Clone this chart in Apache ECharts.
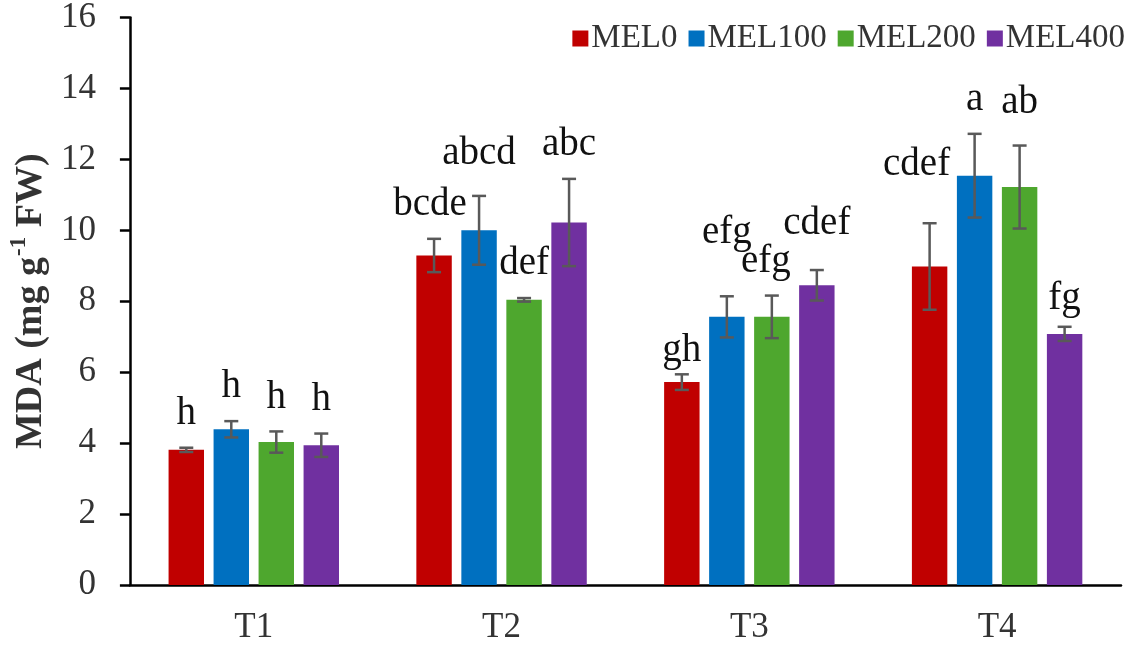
<!DOCTYPE html>
<html>
<head>
  <meta charset="UTF-8">
  <title>MDA</title>
  <script src="https://cdn.jsdelivr.net/npm/echarts@6/dist/echarts.min.js"></script>
  <style>
    html, body { margin: 0; padding: 0; background: #fff; }
    #main { width: 1134px; height: 661px; }
  </style>
</head>
<body>
<div id="main"></div>
<script type="text/javascript">
  // data
  var categories = ['T1', 'T2', 'T3', 'T4'];
  var seriesNames = ['MEL0', 'MEL100', 'MEL200', 'MEL400'];
  var mel0   = [3.81, 9.29, 5.72, 8.98];
  var mel100 = [4.39, 10.00, 7.56, 11.54];
  var mel200 = [4.03, 8.04, 7.56, 11.22];
  var mel400 = [3.94, 10.22, 8.45, 7.08];
  var err0   = [0.06, 0.47, 0.22, 1.22];
  var err100 = [0.23, 0.97, 0.58, 1.18];
  var err200 = [0.30, 0.05, 0.60, 1.17];
  var err400 = [0.33, 1.23, 0.43, 0.20];
  var letters0   = ['h', 'bcde', 'gh', 'cdef'];
  var letters100 = ['h', 'abcd', 'efg', 'a'];
  var letters200 = ['h', 'def', 'efg', 'ab'];
  var letters400 = ['h', 'abc', 'cdef', 'fg'];
  var yMin = 0, yMax = 16, yStep = 2;

  var means = [mel0, mel100, mel200, mel400];
  var errs = [err0, err100, err200, err400];
  var letters = [letters0, letters100, letters200, letters400];
  var colors = ['#C00000', '#0070C0', '#4EA72E', '#7030A0'];

  var FONT = '"Liberation Serif", "Times New Roman", serif';
  var BAR_W = 0.143;   // bar width as share of category band
  var BAR_GAP = 0.27;  // gap as share of bar width

  // letters sit ~34px over the error bar; a few were moved in the original to avoid clashes
  // key = series index + '-' + category index
  var liftDefault = 34;
  var liftFix = { '1-1': 42, '1-2': 64, '3-2': 46, '0-3': 58, '2-3': 43, '3-3': 28, '0-2': 24 };
  var shiftFix = { '0-3': -13, '2-2': -6, '0-1': -4 };

  var myChart = echarts.init(document.getElementById('main'));

  var series = [];
  seriesNames.forEach(function (name, s) {
    series.push({
      name: name,
      type: 'bar',
      data: means[s],
      barWidth: (BAR_W * 100) + '%',
      barGap: (BAR_GAP * 100) + '%',
      itemStyle: { color: colors[s] }
    });
  });
  seriesNames.forEach(function (name, s) {
    var d = categories.map(function (c, i) { return [i, means[s][i], errs[s][i]]; });
    series.push({
      type: 'custom',
      name: name + '-err',
      z: 5,
      silent: true,
      data: d,
      renderItem: function (params, api) {
        var i = api.value(0), m = api.value(1), e = api.value(2);
        var band = api.size([1, 0])[0];
        var w = band * BAR_W, g = w * BAR_GAP;
        var total = 4 * w + 3 * g;
        var dx = -total / 2 + s * (w + g) + w / 2;
        var top = api.coord([i, m + e]);
        var bot = api.coord([i, m - e]);
        var x = top[0] + dx;
        var cap = 7;
        var key = s + '-' + i;
        var lift = liftFix[key] != null ? liftFix[key] : liftDefault;
        var shift = shiftFix[key] || 0;
        var lineStyle = { stroke: '#595959', lineWidth: 2.5 };
        return {
          type: 'group',
          children: [
            { type: 'line', shape: { x1: x, y1: top[1], x2: x, y2: bot[1] }, style: lineStyle },
            { type: 'line', shape: { x1: x - cap, y1: top[1], x2: x + cap, y2: top[1] }, style: lineStyle },
            { type: 'line', shape: { x1: x - cap, y1: bot[1], x2: x + cap, y2: bot[1] }, style: lineStyle },
            {
              type: 'text',
              style: {
                text: letters[s][i],
                x: x + shift,
                y: top[1] - lift,
                align: 'center',
                verticalAlign: 'middle',
                fontFamily: FONT,
                fontSize: 39,
                fill: '#111'
              }
            }
          ]
        };
      }
    });
  });

  myChart.setOption({
    animation: false,
    textStyle: { fontFamily: FONT },
    grid: { left: 129, right: 13, top: 15, bottom: 76 },
    legend: {
      data: seriesNames,
      right: 4,
      top: 17,
      itemWidth: 16,
      itemHeight: 16,
      itemGap: 11,
      icon: 'rect',
      textStyle: { fontFamily: FONT, fontSize: 33, color: '#333', padding: [0, 0, 0, -2] }
    },
    xAxis: {
      type: 'category',
      data: categories,
      axisLine: { lineStyle: { color: '#000', width: 2.5 } },
      axisTick: { alignWithLabel: true, length: 9, lineStyle: { color: '#000', width: 2.5 } },
      axisLabel: { fontFamily: FONT, fontSize: 35, color: '#333', margin: 25 }
    },
    yAxis: {
      type: 'value',
      min: yMin,
      max: yMax,
      interval: yStep,
      name: '{b|MDA (mg g}{sup|-1}{b| FW)}',
      nameLocation: 'middle',
      nameGap: 74,
      nameRotate: 90,
      nameTextStyle: {
        rich: {
          b: { fontFamily: FONT, fontSize: 38, fontWeight: 'bold', color: '#333', lineHeight: 42, verticalAlign: 'bottom' },
          sup: { fontFamily: FONT, fontSize: 23, fontWeight: 'bold', color: '#333', lineHeight: 42, verticalAlign: 'top', padding: [0, 0, 0, 1] }
        }
      },
      axisLine: { show: true, lineStyle: { color: '#000', width: 2.5 } },
      axisTick: { show: true, length: 10, lineStyle: { color: '#000', width: 2.5 } },
      axisLabel: { fontFamily: FONT, fontSize: 35, color: '#333', margin: 34 },
      splitLine: { show: false }
    },
    series: series
  });
</script>
</body>
</html>
